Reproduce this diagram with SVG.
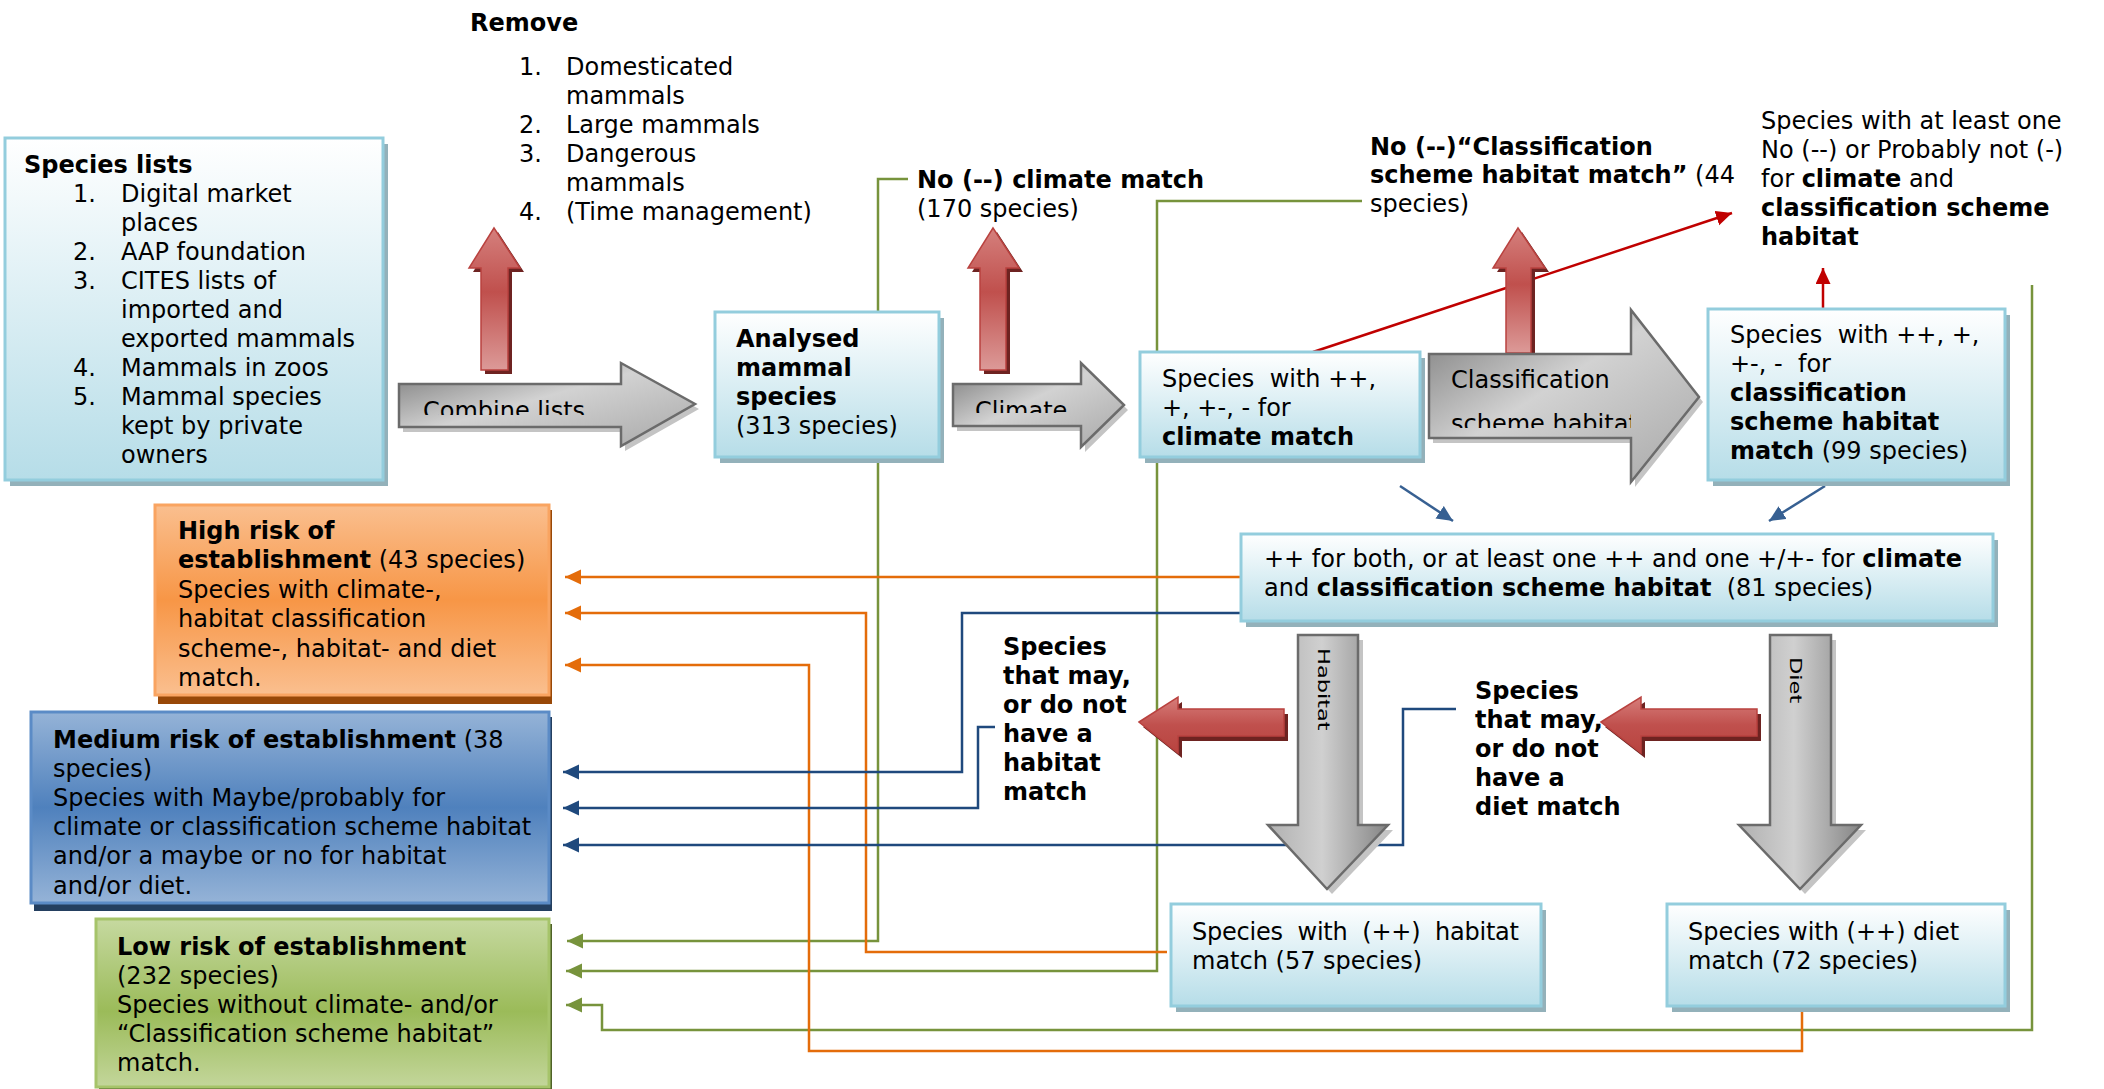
<svg xmlns="http://www.w3.org/2000/svg" width="2104" height="1089" viewBox="0 0 2104 1089">
<style>
text{font-family:"DejaVu Sans",Verdana,"Liberation Sans",sans-serif;font-size:24px;fill:#000;white-space:pre}
.b{font-weight:bold}
.lbl{font-size:15px}
.bx{fill:url(#gBox);stroke:#93cddd;stroke-width:3}
.bxs{fill:#93b1ba}
.ln{fill:none;stroke-width:2.5}
.o{stroke:#e46c0a}
.bl{stroke:#1f497d}
.g{stroke:#77933c}
.r{stroke:#c00000}
.dg{stroke:#376092}
.ga{fill:url(#gGray);stroke:#6b6b6b;stroke-width:2.5;stroke-linejoin:miter}
.gav{fill:url(#gGrayV);stroke:#6b6b6b;stroke-width:2.5}
.gas{fill:#c4c4c4}
.ra{fill:url(#gRedV);stroke:#b9423f;stroke-width:1.5}
.rah{fill:url(#gRedH);stroke:#b9423f;stroke-width:1.5}
.ras{fill:#6e2321}
</style>
<defs>
<linearGradient id="gBox" x1="0" y1="0" x2="0" y2="1"><stop offset="0" stop-color="#ffffff"/><stop offset="1" stop-color="#b6dde8"/></linearGradient>
<linearGradient id="gOr" x1="0" y1="0" x2="0" y2="1"><stop offset="0" stop-color="#fabf8f"/><stop offset="0.5" stop-color="#f79646"/><stop offset="1" stop-color="#fabf8f"/></linearGradient>
<linearGradient id="gBl" x1="0" y1="0" x2="0" y2="1"><stop offset="0" stop-color="#95b3d7"/><stop offset="0.5" stop-color="#4f81bd"/><stop offset="1" stop-color="#95b3d7"/></linearGradient>
<linearGradient id="gGr" x1="0" y1="0" x2="0" y2="1"><stop offset="0" stop-color="#c6d9a0"/><stop offset="0.55" stop-color="#9bbb59"/><stop offset="1" stop-color="#c3d69b"/></linearGradient>
<linearGradient id="gGray" x1="0" y1="0" x2="1" y2="1"><stop offset="0" stop-color="#777777"/><stop offset="0.45" stop-color="#d2d2d2"/><stop offset="1" stop-color="#a8a8a8"/></linearGradient>
<linearGradient id="gGrayV" x1="0" y1="0" x2="1" y2="0"><stop offset="0" stop-color="#b0b0b0"/><stop offset="0.45" stop-color="#d0d0d0"/><stop offset="1" stop-color="#858585"/></linearGradient>
<linearGradient id="gRedV" x1="0" y1="0" x2="0" y2="1"><stop offset="0" stop-color="#d5807d"/><stop offset="0.45" stop-color="#c0504d"/><stop offset="1" stop-color="#dc9a98"/></linearGradient>
<linearGradient id="gRedH" x1="0" y1="0" x2="0" y2="1"><stop offset="0" stop-color="#d77e7b"/><stop offset="0.5" stop-color="#c0504d"/><stop offset="1" stop-color="#b8443f"/></linearGradient>
<marker id="mO" markerUnits="userSpaceOnUse" markerWidth="16" markerHeight="16" refX="16" refY="7.5" orient="auto"><path d="M0,0 L16,7.5 L0,15 z" fill="#e46c0a"/></marker>
<marker id="mB" markerUnits="userSpaceOnUse" markerWidth="16" markerHeight="16" refX="16" refY="7.5" orient="auto"><path d="M0,0 L16,7.5 L0,15 z" fill="#1f497d"/></marker>
<marker id="mG" markerUnits="userSpaceOnUse" markerWidth="16" markerHeight="16" refX="16" refY="7.5" orient="auto"><path d="M0,0 L16,7.5 L0,15 z" fill="#77933c"/></marker>
<marker id="mR" markerUnits="userSpaceOnUse" markerWidth="16" markerHeight="16" refX="16" refY="7.5" orient="auto"><path d="M0,0 L16,7.5 L0,15 z" fill="#c00000"/></marker>
<marker id="mD" markerUnits="userSpaceOnUse" markerWidth="16" markerHeight="16" refX="16" refY="7.5" orient="auto"><path d="M0,0 L16,7.5 L0,15 z" fill="#376092"/></marker>
<clipPath id="cCombine"><rect x="399" y="384" width="222" height="31"/></clipPath>
<clipPath id="cClimate"><rect x="953" y="384" width="128" height="29"/></clipPath>
<clipPath id="cClass"><rect x="1429" y="354" width="202" height="74"/></clipPath>
</defs>

<g id="connectors">
<polyline class="ln g" points="908,179 878,179 878,941 567,941" marker-end="url(#mG)"/>
<polyline class="ln g" points="1362,201 1157,201 1157,971 566,971" marker-end="url(#mG)"/>
<polyline class="ln g" points="2032,285 2032,1030 602,1030 602,1005 566,1005" marker-end="url(#mG)"/>
<polyline class="ln o" points="1241,577 565,577" marker-end="url(#mO)"/>
<polyline class="ln o" points="1167,952 866,952 866,613 565,613" marker-end="url(#mO)"/>
<polyline class="ln o" points="1802,1006 1802,1051 809,1051 809,665 565,665" marker-end="url(#mO)"/>
<polyline class="ln bl" points="1241,613 962,613 962,772 563,772" marker-end="url(#mB)"/>
<polyline class="ln bl" points="995,727 978,727 978,808 563,808" marker-end="url(#mB)"/>
<polyline class="ln bl" points="1456,709 1403,709 1403,845 563,845" marker-end="url(#mB)"/>
<line class="ln dg" x1="1400" y1="486" x2="1453" y2="521" marker-end="url(#mD)"/>
<line class="ln dg" x1="1825" y1="486" x2="1769" y2="521" marker-end="url(#mD)"/>
<line class="ln r" x1="1313" y1="352" x2="1732" y2="213" marker-end="url(#mR)"/>
<line class="ln r" x1="1823" y1="309" x2="1823" y2="268" marker-end="url(#mR)"/>
</g>

<g id="species-lists">
<rect class="bxs" x="10" y="144" width="378" height="342"/>
<rect class="bx" x="5" y="138" width="378" height="342"/>
<text class="b" x="24" y="173">Species lists</text>
<text x="73" y="202">1.</text><text x="121" y="202">Digital market</text>
<text x="121" y="231">places</text>
<text x="73" y="260">2.</text><text x="121" y="260">AAP foundation</text>
<text x="73" y="289">3.</text><text x="121" y="289">CITES lists of</text>
<text x="121" y="318">imported and</text>
<text x="121" y="347">exported mammals</text>
<text x="73" y="376">4.</text><text x="121" y="376">Mammals in zoos</text>
<text x="73" y="405">5.</text><text x="121" y="405">Mammal species</text>
<text x="121" y="434">kept by private</text>
<text x="121" y="463">owners</text>
</g>

<g id="remove-label">
<text class="b" x="470" y="31">Remove</text>
<text x="519" y="75">1.</text><text x="566" y="75">Domesticated</text>
<text x="566" y="104">mammals</text>
<text x="519" y="133">2.</text><text x="566" y="133">Large mammals</text>
<text x="519" y="162">3.</text><text x="566" y="162">Dangerous</text>
<text x="566" y="191">mammals</text>
<text x="519" y="220">4.</text><text x="566" y="220">(Time management)</text>
</g>

<g id="remove-arrow-1">
<polygon class="ras" points="498,232 524,272 512,272 512,374 485,374 485,272 473,272"/>
<polygon class="ra" points="494,228 520,268 508,268 508,370 481,370 481,268 469,268"/>
</g>

<g id="combine-arrow">
<polygon class="gas" points="403,389 625,389 625,368 699,409 625,451 625,432 403,432"/>
<polygon class="ga" points="399,384 621,384 621,363 695,404 621,446 621,427 399,427"/>
<text clip-path="url(#cCombine)" x="423" y="419">Combine lists</text>
</g>

<g id="analysed">
<rect class="bxs" x="720" y="318" width="224" height="145"/>
<rect class="bx" x="715" y="312" width="224" height="145"/>
<text class="b" x="736" y="347">Analysed</text>
<text class="b" x="736" y="376">mammal</text>
<text class="b" x="736" y="405">species</text>
<text x="736" y="434">(313 species)</text>
</g>

<g id="no-climate-label">
<text class="b" x="917" y="188">No (--) climate match</text>
<text x="917" y="217">(170 species)</text>
</g>

<g id="remove-arrow-2">
<polygon class="ras" points="997,232 1023,272 1010,272 1010,374 984,374 984,272 972,272"/>
<polygon class="ra" points="993,228 1019,268 1006,268 1006,370 980,370 980,268 968,268"/>
</g>

<g id="climate-arrow">
<polygon class="gas" points="957,389 1085,389 1085,368 1128,410 1085,452 1085,431 957,431"/>
<polygon class="ga" points="953,384 1081,384 1081,363 1124,405 1081,447 1081,426 953,426"/>
<text clip-path="url(#cClimate)" x="975" y="419">Climate</text>
</g>

<g id="climate-match">
<rect class="bxs" x="1145" y="358" width="280" height="105"/>
<rect class="bx" x="1140" y="352" width="280" height="105"/>
<text x="1162" y="387">Species  with ++,</text>
<text x="1162" y="416">+, +-, - for</text>
<text class="b" x="1162" y="445">climate match</text>
</g>

<g id="no-class-label">
<text x="1370" y="155"><tspan class="b">No (--)“Classification</tspan></text>
<text x="1370" y="183"><tspan class="b">scheme habitat match”</tspan> (44</text>
<text x="1370" y="212">species)</text>
</g>

<g id="remove-arrow-3">
<polygon class="ras" points="1522,232 1549,272 1535,272 1535,361 1510,361 1510,272 1497,272"/>
<polygon class="ra" points="1518,228 1545,268 1531,268 1531,353 1506,353 1506,268 1493,268"/>
</g>

<g id="class-arrow">
<polygon class="gas" points="1433,359 1635,359 1635,315 1703,402 1635,487 1635,443 1433,443"/>
<polygon class="ga" points="1429,354 1631,354 1631,310 1699,397 1631,482 1631,438 1429,438"/>
<text clip-path="url(#cClass)" x="1451" y="388">Classification</text>
<text clip-path="url(#cClass)" x="1451" y="432">scheme habitat</text>
</g>

<g id="class-match">
<rect class="bxs" x="1713" y="315" width="297" height="171"/>
<rect class="bx" x="1708" y="309" width="297" height="171"/>
<text x="1730" y="343">Species  with ++, +,</text>
<text x="1730" y="372">+-, -  for</text>
<text class="b" x="1730" y="401">classification</text>
<text class="b" x="1730" y="430">scheme habitat</text>
<text x="1730" y="459"><tspan class="b">match</tspan> (99 species)</text>
</g>

<g id="at-least-one-label">
<text x="1761" y="129">Species with at least one</text>
<text x="1761" y="158">No (--) or Probably not (-)</text>
<text x="1761" y="187">for <tspan class="b">climate</tspan> and</text>
<text class="b" x="1761" y="216">classification scheme</text>
<text class="b" x="1761" y="245">habitat</text>
</g>

<g id="both-match">
<rect class="bxs" x="1246" y="540" width="752" height="87"/>
<rect class="bx" x="1241" y="534" width="752" height="87"/>
<text x="1264" y="567">++ for both, or at least one ++ and one +/+- for <tspan class="b">climate</tspan></text>
<text x="1264" y="596">and <tspan class="b">classification scheme habitat</tspan>  (81 species)</text>
</g>

<g id="habitat-arrow">
<polygon class="gas" points="1303,640 1363,640 1363,830 1393,830 1332,894 1273,830 1303,830"/>
<polygon class="gav" points="1298,635 1358,635 1358,825 1388,825 1327,889 1268,825 1298,825"/>
<text class="lbl" transform="translate(1318,648) rotate(90) scale(1.5,1)">Habitat</text>
</g>

<g id="diet-arrow">
<polygon class="gas" points="1775,640 1836,640 1836,830 1866,830 1805,894 1744,830 1775,830"/>
<polygon class="gav" points="1770,635 1831,635 1831,825 1861,825 1800,889 1739,825 1770,825"/>
<text class="lbl" transform="translate(1790,657) rotate(90) scale(1.5,1)">Diet</text>
</g>

<g id="habitat-reject-arrow">
<polygon class="ras" points="1143,727 1182,702 1182,714 1288,714 1288,741 1182,741 1182,758"/>
<polygon class="rah" points="1139,722 1178,697 1178,709 1284,709 1284,736 1178,736 1178,753"/>
</g>

<g id="diet-reject-arrow">
<polygon class="ras" points="1605,727 1645,702 1645,714 1761,714 1761,741 1645,741 1645,758"/>
<polygon class="rah" points="1601,722 1641,697 1641,709 1757,709 1757,736 1641,736 1641,753"/>
</g>

<g id="habitat-reject-label">
<text class="b" x="1003" y="655">Species</text>
<text class="b" x="1003" y="684">that may,</text>
<text class="b" x="1003" y="713">or do not</text>
<text class="b" x="1003" y="742">have a</text>
<text class="b" x="1003" y="771">habitat</text>
<text class="b" x="1003" y="800">match</text>
</g>

<g id="diet-reject-label">
<text class="b" x="1475" y="699">Species</text>
<text class="b" x="1475" y="728">that may,</text>
<text class="b" x="1475" y="757">or do not</text>
<text class="b" x="1475" y="786">have a</text>
<text class="b" x="1475" y="815">diet match</text>
</g>

<g id="habitat-match">
<rect class="bxs" x="1176" y="910" width="370" height="102"/>
<rect class="bx" x="1171" y="904" width="370" height="102"/>
<text x="1192" y="940" textLength="327" lengthAdjust="spacing">Species  with  (++)  habitat</text>
<text x="1192" y="969">match (57 species)</text>
</g>

<g id="diet-match">
<rect class="bxs" x="1672" y="910" width="338" height="102"/>
<rect class="bx" x="1667" y="904" width="338" height="102"/>
<text x="1688" y="940">Species with (++) diet</text>
<text x="1688" y="969">match (72 species)</text>
</g>

<g id="high-risk">
<rect x="158" y="510" width="394" height="194" fill="#984807"/>
<rect x="155" y="505" width="394" height="190" fill="url(#gOr)" stroke="#f9a461" stroke-width="3"/>
<text class="b" x="178" y="539">High risk of</text>
<text x="178" y="568"><tspan class="b">establishment</tspan> (43 species)</text>
<text x="178" y="598">Species with climate-,</text>
<text x="178" y="627">habitat classification</text>
<text x="178" y="657">scheme-, habitat- and diet</text>
<text x="178" y="686">match.</text>
</g>

<g id="medium-risk">
<rect x="34" y="717" width="518" height="194" fill="#243f60"/>
<rect x="31" y="712" width="518" height="191" fill="url(#gBl)" stroke="#5b8bc6" stroke-width="3"/>
<text x="53" y="748"><tspan class="b">Medium risk of establishment</tspan> (38</text>
<text x="53" y="777">species)</text>
<text x="53" y="806">Species with Maybe/probably for</text>
<text x="53" y="835">climate or classification scheme habitat</text>
<text x="53" y="864">and/or a maybe or no for habitat</text>
<text x="53" y="894">and/or diet.</text>
</g>

<g id="low-risk">
<rect x="99" y="924" width="453" height="170" fill="#4f6228"/>
<rect x="96" y="919" width="453" height="168" fill="url(#gGr)" stroke="#a6c46a" stroke-width="3"/>
<text class="b" x="117" y="955">Low risk of establishment</text>
<text x="117" y="984">(232 species)</text>
<text x="117" y="1013">Species without climate- and/or</text>
<text x="117" y="1042">“Classification scheme habitat”</text>
<text x="117" y="1071">match.</text>
</g>
</svg>
